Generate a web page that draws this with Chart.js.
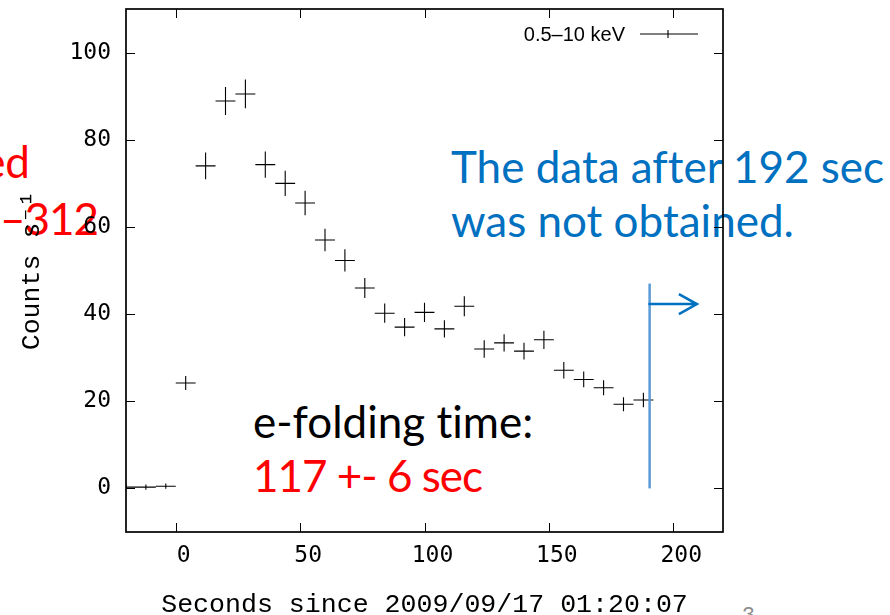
<!DOCTYPE html>
<html>
<head>
<meta charset="utf-8">
<script src="https://cdn.jsdelivr.net/npm/chart.js@4.4.1/dist/chart.umd.min.js"></script>
<style>
  html, body { margin: 0; padding: 0; background: #fff; }
  #wrap { position: relative; width: 890px; height: 615px; overflow: hidden; }
  #chart { position: absolute; left: 0; top: 0; z-index: 1; }
  .note { position: absolute; z-index: 0; font-family: Lato, 'Open Sans', sans-serif; font-size: 44px; line-height: 1; white-space: nowrap; font-variant-ligatures: none; }
  .blue { color: #0070c0; }
  .red { color: #ff0000; }
</style>
</head>
<body>
<div id="wrap">
  <div class="note red" style="right:860px;top:139px;">ed</div>
  <div class="note red" style="right:792px;top:196px;letter-spacing:-1px;">7–312</div>
  <div class="note blue" style="left:451px;top:144px;">The data after 192 sec</div>
  <div class="note blue" style="left:451px;top:198px;">was not obtained.</div>
  <div class="note" style="left:253px;top:399px;color:#000;">e-folding time:</div>
  <div class="note red" style="left:253px;top:453px;letter-spacing:-1px;">117 +- 6 sec</div>
  <div class="note" style="left:742px;top:603px;font-size:22px;color:#8c8c8c;">3</div>
  <canvas id="chart" width="890" height="615"></canvas>
</div>
<script>
// light curve, 8 s bins
const binCenters = [-20, -12, -4, 4, 12, 20, 28, 36, 44, 52, 60, 68, 76, 84, 92, 100, 108, 116, 124, 132, 140, 148, 156, 164, 172, 180, 188];
const binHalfWidths = [4, 4, 4, 4, 4, 4, 4, 4, 4, 4, 4, 4, 4, 4, 4, 4, 4, 4, 4, 4, 4, 4, 4, 4, 4, 4, 4];
const countRates = [0.3, 0.3, 0.5, 24.2, 74.0, 88.9, 90.5, 74.3, 70.0, 65.5, 57.0, 52.3, 46.0, 40.2, 37.0, 40.4, 36.6, 41.8, 32.0, 33.4, 31.5, 34.1, 27.1, 25.0, 23.1, 19.3, 20.3];
const rateErrors = [0.6, 0.6, 0.6, 1.6, 3.05, 3.2, 3.3, 3.0, 2.9, 2.8, 2.6, 2.55, 2.3, 2.2, 2.1, 2.2, 2.0, 2.3, 2.0, 2.0, 1.9, 2.1, 1.9, 1.8, 1.7, 1.6, 1.65];

const xTickValues = [0, 50, 100, 150, 200];
const yTickValues = [0, 20, 40, 60, 80, 100];
const seriesLabel = '0.5–10 keV';

// slide annotation: end of data marker + arrow
const cutoffLineX = [190.5];
const cutoffLineY = [0, 47];
const cutoffArrowX = [190, 209.5];
const cutoffArrowY = [42.3];

function errorBarSegments() {
  const pts = [];
  binCenters.forEach((x, i) => {
    const y = countRates[i];
    pts.push({ x: x - binHalfWidths[i], y }, { x: x + binHalfWidths[i], y }, { x, y: null });
    pts.push({ x, y: y - rateErrors[i] }, { x, y: y + rateErrors[i] }, { x, y: null });
  });
  return pts;
}

function noEdgePadding(scale) {
  scale.paddingTop = 0;
  scale.paddingBottom = 0;
  scale.paddingLeft = 0;
  scale.paddingRight = 0;
}

const frame = {
  id: 'frame',
  afterDatasetsDraw(chart) {
    const { ctx, chartArea: a, scales: { x, y } } = chart;
    ctx.save();
    ctx.strokeStyle = '#000';
    ctx.lineWidth = 1;
    ctx.beginPath();
    x.ticks.forEach(t => {
      const px = Math.round(x.getPixelForValue(t.value)) + 0.5;
      ctx.moveTo(px, a.bottom); ctx.lineTo(px, a.bottom - 9);
      ctx.moveTo(px, a.top); ctx.lineTo(px, a.top + 9);
    });
    y.ticks.forEach(t => {
      const py = Math.round(y.getPixelForValue(t.value)) + 0.5;
      ctx.moveTo(a.left, py); ctx.lineTo(a.left + 9, py);
      ctx.moveTo(a.right, py); ctx.lineTo(a.right - 9, py);
    });
    ctx.stroke();
    ctx.lineWidth = 1.7;
    ctx.strokeRect(a.left, a.top, a.right - a.left, a.bottom - a.top);
    ctx.restore();
  }
};

const keyBox = {
  id: 'keyBox',
  afterDatasetsDraw(chart) {
    const { ctx, chartArea: a } = chart;
    const yc = a.top + 25;
    ctx.save();
    ctx.font = '20px "Liberation Sans", Arial, sans-serif';
    ctx.fillStyle = '#000';
    ctx.textAlign = 'right';
    ctx.textBaseline = 'middle';
    ctx.fillText(seriesLabel, a.right - 98, yc + 1);
    ctx.strokeStyle = '#000';
    ctx.lineWidth = 1.1;
    ctx.beginPath();
    ctx.moveTo(a.right - 83, yc); ctx.lineTo(a.right - 25, yc);
    ctx.moveTo(a.right - 55, yc - 4); ctx.lineTo(a.right - 55, yc + 4);
    ctx.stroke();
    ctx.restore();
  }
};

const cutoffMark = {
  id: 'cutoffMark',
  afterDatasetsDraw(chart) {
    const { ctx, scales: { x, y } } = chart;
    ctx.save();
    ctx.lineCap = 'butt';
    ctx.strokeStyle = '#5b9bd5';
    ctx.lineWidth = 2.5;
    const lx = x.getPixelForValue(cutoffLineX[0]);
    ctx.beginPath();
    ctx.moveTo(lx, y.getPixelForValue(cutoffLineY[0]));
    ctx.lineTo(lx, y.getPixelForValue(cutoffLineY[1]));
    ctx.stroke();

    const ay = y.getPixelForValue(cutoffArrowY[0]);
    const x0 = x.getPixelForValue(cutoffArrowX[0]);
    const x1 = x.getPixelForValue(cutoffArrowX[1]);
    ctx.strokeStyle = '#0070c0';
    ctx.beginPath();
    ctx.moveTo(x0, ay); ctx.lineTo(x1, ay);
    ctx.moveTo(x1 - 18, ay - 10); ctx.lineTo(x1, ay); ctx.lineTo(x1 - 18, ay + 10);
    ctx.stroke();
    ctx.restore();
  }
};

const tickFont = { family: '"DejaVu Sans Mono", monospace', size: 23 };
const titleFont = { family: '"Liberation Mono", "Courier New", monospace', size: 26.6 };

new Chart(document.getElementById('chart'), {
  type: 'line',
  data: {
    datasets: [{
      label: seriesLabel,
      data: errorBarSegments(),
      borderColor: '#000',
      borderWidth: 1.1,
      pointRadius: 0,
      tension: 0,
      spanGaps: false,
      fill: false
    }]
  },
  options: {
    responsive: false,
    devicePixelRatio: 1,
    animation: false,
    layout: { padding: { top: 9, right: 167, left: 0, bottom: 0 } },
    plugins: { legend: { display: false }, tooltip: { enabled: false } },
    scales: {
      x: {
        type: 'linear',
        min: -20,
        max: 220,
        afterBuildTicks: scale => { scale.ticks = xTickValues.map(v => ({ value: v })); },
        afterFit: scale => { scale.height = 83; noEdgePadding(scale); },
        grid: { display: false, drawTicks: false },
        border: { display: false },
        ticks: { font: tickFont, color: '#000', padding: 10, labelOffset: 8, maxRotation: 0 },
        title: {
          display: true,
          text: 'Seconds since 2009/09/17 01:20:07',
          font: titleFont,
          color: '#000',
          padding: { top: 0, bottom: -6 }
        }
      },
      y: {
        type: 'linear',
        min: -10,
        max: 110,
        afterBuildTicks: scale => { scale.ticks = yTickValues.map(v => ({ value: v })); },
        afterFit: scale => { scale.width = 126; noEdgePadding(scale); },
        grid: { display: false, drawTicks: false },
        border: { display: false },
        ticks: { font: tickFont, color: '#000', padding: 15 },
        title: {
          display: true,
          text: 'Counts s⁻¹',
          font: titleFont,
          color: '#000',
          padding: { top: 16, bottom: 0 }
        }
      }
    }
  },
  plugins: [frame, keyBox, cutoffMark]
});
</script>
</body>
</html>
